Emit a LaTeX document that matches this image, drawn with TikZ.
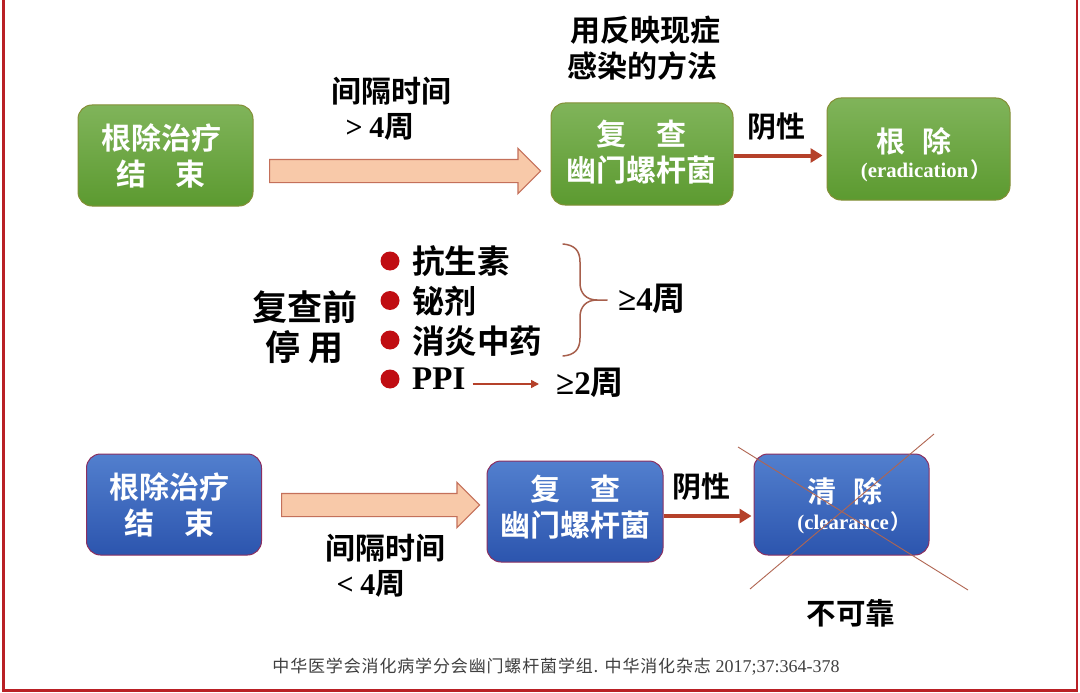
\documentclass[tikz,border=0pt]{standalone}
\usepackage{fontspec}
\setmainfont{Noto Sans CJK SC}[BoldFont={* Bold}]
\newfontfamily\lat{Liberation Serif}[BoldFont={Liberation Serif Bold}]
\usetikzlibrary{arrows.meta,shapes.arrows}
\definecolor{frameRed}{HTML}{B92025}
\definecolor{arrRed}{HTML}{B5412A}
\definecolor{bulRed}{HTML}{C00D12}
\definecolor{greenTop}{HTML}{80B45A}
\definecolor{greenBot}{HTML}{5C9A30}
\definecolor{blueTop}{HTML}{527FCE}
\definecolor{blueBot}{HTML}{2C55AE}
\definecolor{peach}{HTML}{F8C9A9}
\definecolor{peachLine}{HTML}{C4705A}
\newcommand{\fs}[2]{\fontsize{#1}{#2}\selectfont}
\newcommand{\bodyrule}{\rule{0pt}{22pt}}
\tikzset{
  x=1pt,y=-1pt,
  box/.style={rounded corners=14pt,inner sep=0pt},
  greenbox/.style={box,top color=greenTop,bottom color=greenBot,draw=greenBot!60!brown,line width=1pt},
  bluebox/.style={box,top color=blueTop,bottom color=blueBot,draw=red!45!blueBot,line width=1pt},
  boxtext/.style={inner sep=0pt,align=center,text=white,font=\bfseries\fs{30}{36}},
  bigarrow/.style={single arrow,single arrow head extend=11pt,single arrow head indent=0pt,inner sep=0pt,
    fill=peach,draw=peachLine,line width=1.2pt,anchor=tail},
  thickarrow/.style={draw=arrRed,line width=4pt,-{Triangle[length=12pt,width=14pt]}},
  label/.style={inner sep=0pt,align=center,text=black,font=\bfseries\fs{30}{36}},
  bullet/.style={circle,fill=bulRed,minimum size=19pt,inner sep=0pt},
  crossline/.style={draw=peachLine!90!black,line width=0.9pt},
}
\begin{document}
\begin{tikzpicture}
\useasboundingbox (0,0) rectangle (1080,693);
\fill[white] (0,0) rectangle (1080,693);
\draw[frameRed,line width=2.6pt] (3.5,-2) -- (3.5,690.5) -- (1077,690.5) -- (1077,-2);

% green row
\node[greenbox,minimum width=175pt,minimum height=101pt] (g1) at (165.5,155.5) {};
\node[greenbox,minimum width=182pt,minimum height=102pt] (g2) at (642,154) {};
\node[greenbox,minimum width=183pt,minimum height=102pt] (g3) at (918.5,149) {};
\node[boxtext] (g1t) at (161,156) {根除治疗\\结\hspace{1em}束};
\node[boxtext] (g2t) at (641.5,152) {复\hspace{1em}查\\幽门螺杆菌};
\node[boxtext,font=\bfseries\fs{29}{36}] (g3a) at (914,141) {根\hspace{0.62em}除};
\node[boxtext,font=\lat\bfseries\fs{20.8}{24}] (g3b) at (926,171) {(eradication\kern2pt{\rmfamily）}};
\node[bigarrow,minimum height=271pt] (a1) at (269,171) {\bodyrule};
\draw[thickarrow,shorten >=4pt] ([yshift=-1.5pt]g2.east) -- ([yshift=-1.5pt]g2.east -| g3.west);

\node[label] (gap1) at (391,91) {间隔时间};
\node[label] (gt4) at (380,127) {{\lat >} {\lat 4}周};
\node[label] (meth) at (645.5,48) {用反映现症\\\kern-6pt感染的方法};
\node[label,font=\bfseries\fs{29}{36}] (neg1) at (776,127) {阴性};

% middle
\node[label,font=\bfseries\fs{35}{40}] (stop) at (304.5,327) {复查前\\停\hspace{0.22em}用};
\node[bullet] (b1) at (390,261) {};
\node[bullet] (b2) at (390,300.5) {};
\node[bullet] (b3) at (390,340) {};
\node[bullet] (b4) at (390,379) {};
\node[label,anchor=west,font=\bfseries\fs{32.5}{36}] (t1) at (412,261) {抗生素};
\node[label,anchor=west,font=\bfseries\fs{32}{36}] (t2) at (412,301) {铋剂};
\node[label,anchor=west,font=\bfseries\fs{32.5}{36}] (t3) at (412,341) {消炎中药};
\node[label,anchor=west,font=\lat\bfseries\fs{33}{36}] (ppi) at (412,379) {PPI};
\node[label,anchor=west,font=\bfseries\fs{33}{36}] (w4) at (618,299) {{\lat ≥4}周};
\node[label,anchor=west,font=\bfseries\fs{33}{36}] (w2) at (556,383) {{\lat ≥2}周};
\coordinate (brtip) at (607,300);
\draw[peachLine!85!black,line width=1.5pt,line cap=round]
  (563,244) .. controls (574,245) and (580,250) .. (580,262)
  -- (580,283) .. controls (580,293) and (586,300) .. (597,300) -- (brtip)
  (597,300) .. controls (586,300) and (580,307) .. (580,317)
  -- (580,338) .. controls (580,350) and (574,355) .. (563,356);
\draw[arrRed,line width=1.6pt,-{Triangle[length=8pt,width=8pt]},shorten <=7pt,shorten >=17pt]
  ([yshift=-5pt]ppi.east) -- ([yshift=-5pt]ppi.east -| w2.west);

% blue row
\node[bluebox,minimum width=175pt,minimum height=101pt] (b1x) at (174,504.5) {};
\node[bluebox,minimum width=176pt,minimum height=101pt] (b2x) at (575,511.5) {};
\node[bluebox,minimum width=175pt,minimum height=101pt] (b3x) at (841.5,504.5) {};
\node[boxtext] (b1t) at (169.5,505) {根除治疗\\结\hspace{1em}束};
\node[boxtext] (b2t) at (575.5,507.5) {复\hspace{1em}查\\幽门螺杆菌};
\node[boxtext,font=\bfseries\fs{29}{36}] (b3a) at (845,491) {清\hspace{0.62em}除};
\node[boxtext,font=\lat\bfseries\fs{20.8}{24}] (b3b) at (854.5,523) {(clearance\kern2pt{\rmfamily）}};
\node[bigarrow,minimum height=198pt] (a2) at (281,505) {\bodyrule};
\draw[thickarrow,shorten >=2pt] ([yshift=-4.5pt]b2x.east) -- ([yshift=-4.5pt]b2x.east -| b3x.west);
\coordinate (c1) at (738,447);
\coordinate (c2) at (968,590);
\coordinate (c3) at (934,434);
\coordinate (c4) at (750,589);
\draw[crossline] (c1) -- (c2);
\draw[crossline] (c3) -- (c4);

\node[label] (gap2) at (385,548) {间隔时间};
\node[label] (lt4) at (371,584) {{\lat <} {\lat 4}周};
\node[label,font=\bfseries\fs{29}{36}] (neg2) at (701,487) {阴性};
\node[label,font=\bfseries\fs{29.5}{36}] (unrel) at (851,613) {不可靠};

\node[inner sep=0pt,text=black!75] (ref) at (556,667) {\fs{17}{20}\addfontfeature{LetterSpace=5}中华医学会消化病学分会幽门螺杆菌学组. 中华消化杂志 {\lat\fs{18}{20}\addfontfeature{LetterSpace=0}2017;37:364-378}};
\end{tikzpicture}
\end{document}
